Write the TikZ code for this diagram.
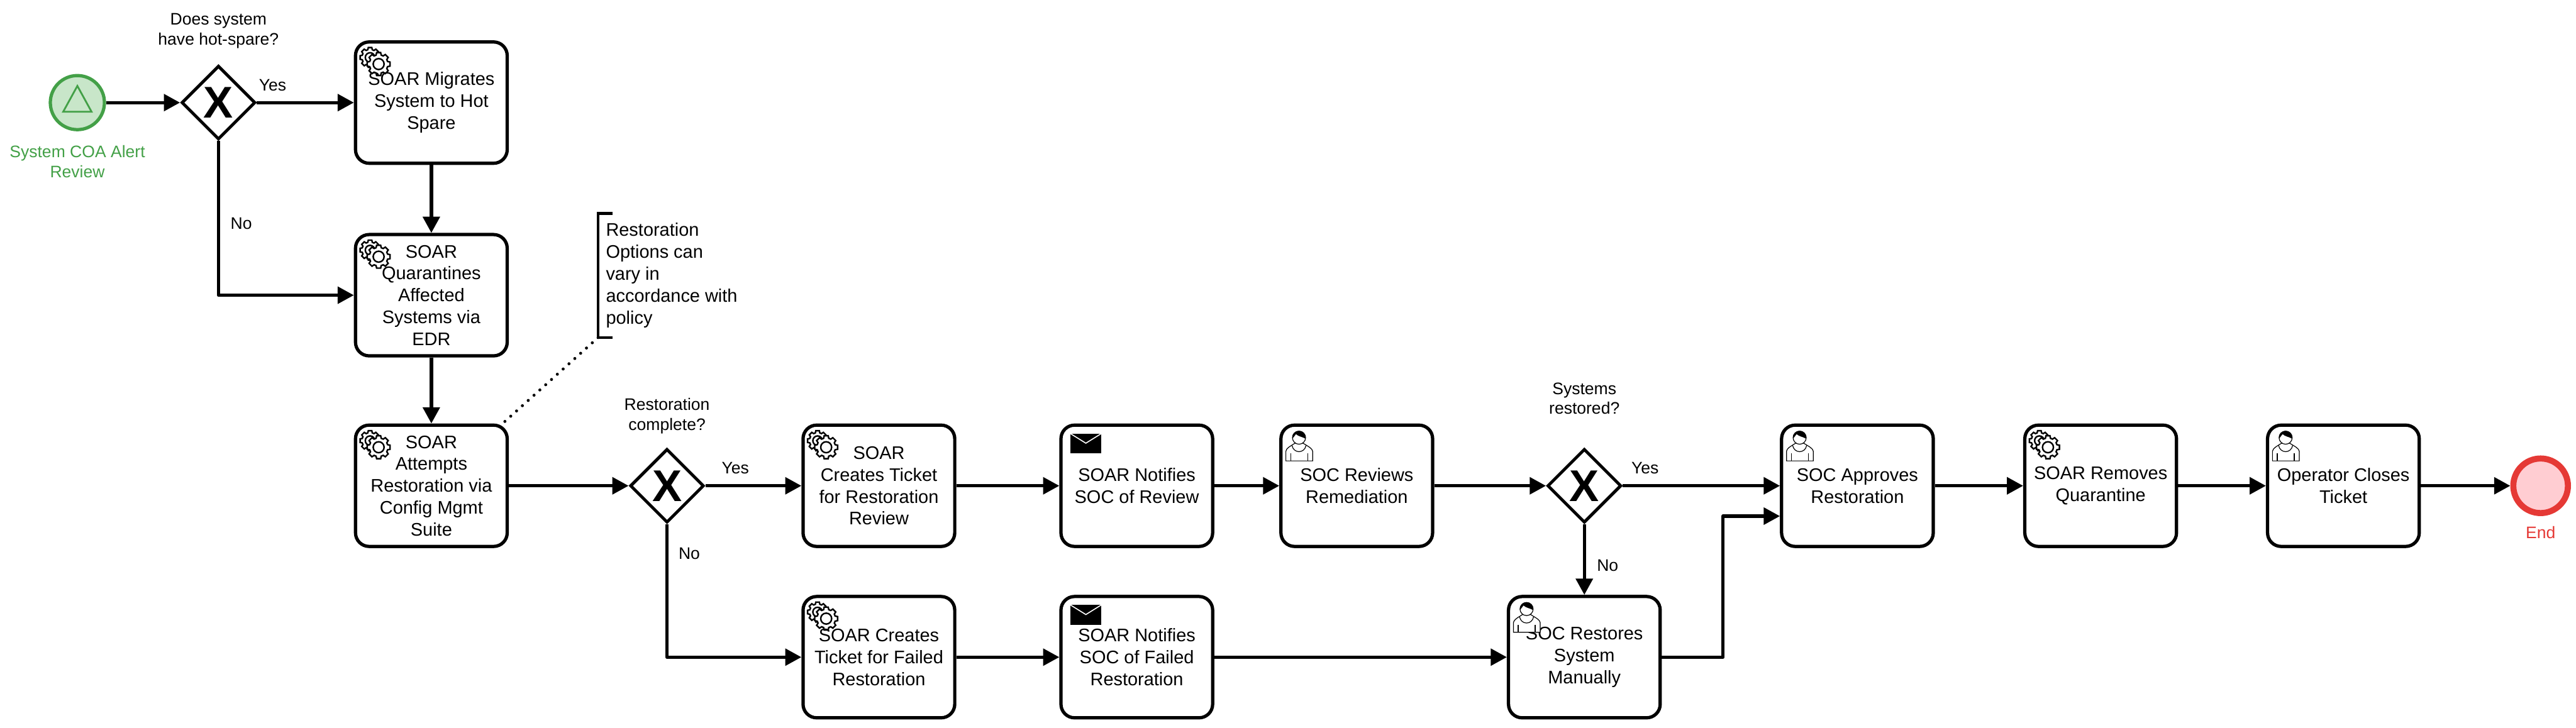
\documentclass[tikz,border=0pt]{standalone}
\usepackage{fontspec}
\setmainfont{Liberation Sans}
\usetikzlibrary{shapes.geometric, arrows.meta, positioning, backgrounds}

\definecolor{startline}{HTML}{43A047}
\definecolor{startfill}{HTML}{C8E6C9}
\definecolor{endline}{HTML}{E53935}
\definecolor{endfill}{HTML}{FFCDD2}

\begin{document}
\begin{tikzpicture}[
    on grid,
    task/.style={draw, rectangle, rounded corners=0.27cm, minimum width=3cm, minimum height=2.4cm, inner sep=0pt, align=center, line width=0.065cm, font=\fontsize{10.24}{12.3}\selectfont},
    gateway/.style={draw, diamond, aspect=1, minimum size=1.46cm, inner sep=0pt, line width=0.06cm, font=\fontsize{25}{25}\bfseries\selectfont},
    lbl/.style={align=center, inner sep=0pt, font=\fontsize{9.39}{11.1}\selectfont},
    arr/.style={-{Triangle[length=0.32cm, width=0.33cm]}, line width=0.065cm, line join=round},
    cogline/.style={line width=0.03cm, fill=white},
    userline/.style={line width=0.015cm, fill=white},
    pics/cog/.style={code={
        \draw[cogline] (-16:{#1*0.8}) \foreach \a in {0,45,...,315} {-- (\a-10:#1) -- (\a+10:#1) -- (\a+16:{#1*0.8}) -- (\a+29:{#1*0.8})} -- cycle;
        \draw[cogline] (0,0) circle ({#1*0.47});
    }},
    pics/gears/.style={code={
        \pic at (0.32,-0.34) {cog=0.2};
        \pic at (0.49,-0.47) {cog=0.23};
    }},
    pics/envelope/.style={code={
        \fill (0.22,-0.20) rectangle (0.83,-0.59);
        \draw[white, line width=0.02cm] (0.22,-0.20) -- (0.525,-0.39) -- (0.83,-0.20);
    }},
    pics/user/.style={code={
        \draw[userline] (0.13,-0.74) -- (0.13,-0.55) .. controls (0.14,-0.49) and (0.2,-0.46) .. (0.31,-0.39) -- (0.47,-0.39) .. controls (0.58,-0.46) and (0.65,-0.49) .. (0.66,-0.55) -- (0.66,-0.74) -- cycle;
        \draw[userline] (0.25,-0.43) .. controls (0.28,-0.6) and (0.5,-0.6) .. (0.53,-0.43);
        \draw[line width=0.015cm] (0.225,-0.59) -- (0.225,-0.74) (0.56,-0.59) -- (0.56,-0.74);
        \draw[userline] (0.39,-0.28) circle (0.13);
        \fill (0.26,-0.30) arc (190:-10:0.13) .. controls (0.45,-0.26) and (0.38,-0.26) .. (0.33,-0.21) .. controls (0.31,-0.24) and (0.28,-0.27) .. cycle;
    }}
]
    \useasboundingbox (0,0) rectangle (50.94,14.4);

    % Start
    \node[draw=startline, fill=startfill, circle, minimum size=1.07cm, line width=0.065cm] (start) at (1.53,12.37) {};
    \draw[startline, line width=0.035cm] ([shift={(-0.28,-0.18)}]start.center) -- ([shift={(0.28,-0.18)}]start.center) -- ([shift={(0,0.33)}]start.center) -- cycle;
    \node[lbl, text=startline] (startlbl) at ([yshift=-0.6cm]start.south) {System COA Alert\\Review};

    % Upper left
    \node[gateway, right=2.79cm of start] (hotspare) {X};
    \node[task, right=4.21cm of hotspare] (migrate) {SOAR Migrates\\System to Hot\\Spare};
    \node[task, below=3.81cm of migrate] (quarantine) {SOAR\\Quarantines\\Affected\\Systems via\\EDR};
    \node[task, below=3.77cm of quarantine] (attempt) {SOAR\\Attempts\\Restoration via\\Config Mgmt\\Suite};
    \node[lbl] (hotsparelbl) at ([yshift=0.66cm]hotspare.north) {Does system\\have hot-spare?};

    % Note
    \node[lbl, draw=none, anchor=west, outer sep=0pt, minimum height=2.46cm, inner xsep=0.155cm, align=left, font=\fontsize{10.24}{12.3}\selectfont] (note) at ([shift={(1.765,2.93)}]attempt.north east) {Restoration\\Options can\\vary in\\accordance with\\policy};
    \draw[line width=0.06cm] ([xshift=0.29cm]note.north west) -- (note.north west) -- (note.south west) -- ([xshift=0.29cm]note.south west);
    \draw[line width=0.06cm, line cap=round, dash pattern=on 0pt off 4.41pt] (note.south west) -- ([shift={(-0.09,0.03)}]attempt.north east);

    % Middle row
    \node[gateway, right=4.66cm of attempt] (complete) {X};
    \node[task, right=4.19cm of complete] (ticket) {SOAR\\Creates Ticket\\for Restoration\\Review};
    \node[task, right=5.1cm of ticket] (notify) {SOAR Notifies\\SOC of Review};
    \node[task, right=4.35cm of notify] (review) {SOC Reviews\\Remediation};
    \node[gateway, right=4.5cm of review] (restored) {X};
    \node[task, right=5.4cm of restored] (approve) {SOC Approves\\Restoration};
    \node[task, right=4.81cm of approve] (remove) {SOAR Removes\\Quarantine};
    \node[task, right=4.8cm of remove] (close) {Operator Closes\\Ticket};
    \node[draw=endline, fill=endfill, circle, minimum size=1.08cm, line width=0.12cm, right=3.9cm of close] (end) {};
    \node[lbl, text=endline] (endlbl) at ([yshift=-0.33cm]end.south) {End};
    \node[lbl] (completelbl) at ([yshift=0.62cm]complete.north) {Restoration\\complete?};
    \node[lbl] (restoredlbl) at ([yshift=0.97cm]restored.north) {Systems\\restored?};

    % Lower row
    \node[task, below=3.39cm of ticket] (ticketfail) {SOAR Creates\\Ticket for Failed\\Restoration};
    \node[task, below=3.39cm of notify] (notifyfail) {SOAR Notifies\\SOC of Failed\\Restoration};
    \node[task, below=3.39cm of restored] (restore) {SOC Restores\\System\\Manually};

    % Icons
    \begin{scope}[on background layer]
        \foreach \n in {migrate, quarantine, attempt, ticket, ticketfail, remove}
            \pic at (\n.north west) {gears};
    \end{scope}
    \foreach \n in {notify, notifyfail}
        \pic at (\n.north west) {envelope};
    \foreach \n in {review, restore, approve, close}
        \pic at (\n.north west) {user};

    % Arrows
    \draw[arr] (start) -- (hotspare);
    \draw[arr] (hotspare) -- (migrate);
    \draw[arr] (hotspare.south) |- (quarantine.west);
    \draw[arr] (migrate) -- (quarantine);
    \draw[arr] (quarantine) -- (attempt);
    \draw[arr] (attempt) -- (complete);
    \draw[arr] (complete) -- (ticket);
    \draw[arr] (complete.south) |- (ticketfail.west);
    \draw[arr] (ticket) -- (notify);
    \draw[arr] (ticketfail) -- (notifyfail);
    \draw[arr] (notify) -- (review);
    \draw[arr] (review) -- (restored);
    \draw[arr] (notifyfail) -- (restore);
    \draw[arr] (restored) -- (approve);
    \draw[arr] (restored) -- (restore);
    \draw[arr] (restore.east) -- ++(1.21,0) |- ([yshift=-0.6cm]approve.west);
    \draw[arr] (approve) -- (remove);
    \draw[arr] (remove) -- (close);
    \draw[arr] (close) -- (end);

    % Branch labels
    \node[lbl] (yes1) at ([shift={(0.31,0.34)}]hotspare.east) {Yes};
    \node[lbl] (no1) at ([shift={(0.45,-1.63)}]hotspare.south) {No};
    \node[lbl] (yes2) at ([shift={(0.59,0.35)}]complete.east) {Yes};
    \node[lbl] (no2) at ([shift={(0.44,-0.58)}]complete.south) {No};
    \node[lbl] (yes3) at ([shift={(0.44,0.35)}]restored.east) {Yes};
    \node[lbl] (no3) at ([shift={(0.46,-0.82)}]restored.south) {No};
\end{tikzpicture}
\end{document}
